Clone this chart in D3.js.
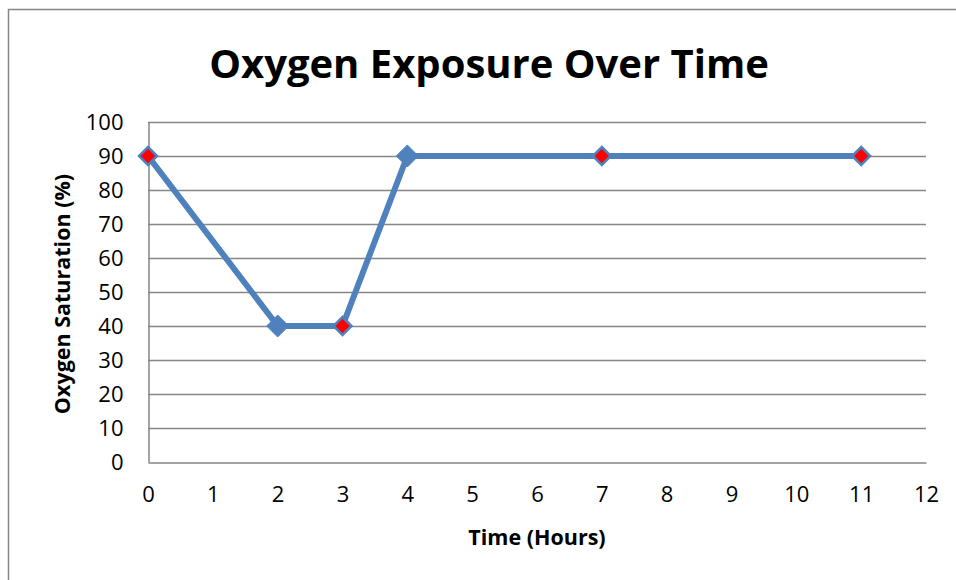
<!DOCTYPE html>
<html><head><meta charset="utf-8">
<script src="https://cdn.jsdelivr.net/npm/d3@7"></script>
<style>body{margin:0;background:#fff}</style>
</head><body>
<svg id="c" width="956" height="580"></svg>
<script>
const timeHours = [0, 2, 3, 4, 7, 11];
const saturation = [90, 40, 40, 90, 90, 90];
const markerRed = [true, false, true, false, true, true];
const xTicks = [0,1,2,3,4,5,6,7,8,9,10,11,12];
const yTicks = [0,10,20,30,40,50,60,70,80,90,100];
const title = "Oxygen Exposure Over Time";
const xTitle = "Time (Hours)";
const yTitle = "Oxygen Saturation (%)";

const svg = d3.select("#c");
const font = "'Open Sans', sans-serif";
const m = {l:148, r:926, t:122, b:462};
svg.append("rect").attr("x",8.5).attr("y",9.5).attr("width",1000).attr("height",1000)
  .attr("fill","#fff").attr("stroke","#868686").attr("stroke-width",1.5);

const x = d3.scaleLinear().domain([0,12]).range([m.l,m.r]);
const y = d3.scaleLinear().domain([0,100]).range([m.b,m.t]);

svg.append("g").selectAll("line").data(yTicks.filter(d=>d>0)).join("line")
  .attr("x1",m.l).attr("x2",m.r).attr("y1",d=>y(d)+0.5).attr("y2",d=>y(d)+0.5)
  .attr("stroke","#868686").attr("stroke-width",1.5);

const ya = svg.append("g").attr("transform",`translate(${m.l+0.5},0)`)
  .call(d3.axisLeft(y).tickValues(yTicks).tickSize(0).tickPadding(25));
const xa = svg.append("g").attr("transform",`translate(0,${m.b+0.5})`)
  .call(d3.axisBottom(x).tickValues(xTicks).tickSize(0).tickPadding(24));
[ya,xa].forEach(a=>{
  a.select(".domain").attr("stroke","#868686").attr("stroke-width",1.5);
  a.selectAll("text").attr("font-family",font).attr("font-size",22).attr("fill","#000");
});
ya.selectAll("text").attr("dy","0.35em");

const line = d3.line().x(d=>x(d[0])).y(d=>y(d[1]));
const pts = timeHours.map((t,i)=>[t,saturation[i],markerRed[i]]);
svg.append("path").datum(pts).attr("d",line).attr("fill","none")
  .attr("stroke","#4f81bd").attr("stroke-width",6).attr("stroke-linejoin","round");

const diamond = h => `M0,${-h}L${h},0L0,${h}L${-h},0Z`;
svg.append("g").selectAll("path").data(pts).join("path")
  .attr("transform",d=>`translate(${x(d[0])},${y(d[1])})`)
  .attr("d",d=>diamond(d[2]?9:11))
  .attr("fill",d=>d[2]?"#ff0000":"#4f81bd")
  .attr("stroke","#4f81bd").attr("stroke-width",d=>d[2]?2.5:1);

svg.append("text").attr("x",489).attr("y",78).attr("text-anchor","middle")
  .attr("font-family",font).attr("font-weight","bold").attr("font-size",40).text(title);
svg.append("text").attr("x",537).attr("y",545).attr("text-anchor","middle")
  .attr("font-family",font).attr("font-weight","bold").attr("font-size",21.5).text(xTitle);
svg.append("text").attr("transform","translate(70,294) rotate(-90)").attr("text-anchor","middle")
  .attr("font-family",font).attr("font-weight","bold").attr("font-size",21.5).text(yTitle);
</script>
</body></html>
